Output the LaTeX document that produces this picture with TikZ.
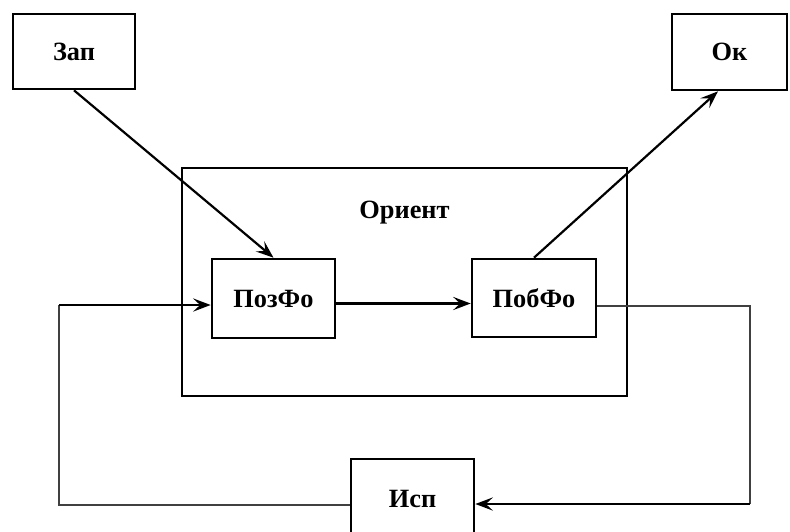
\documentclass[tikz,border=0pt]{standalone}
\usepackage{fontspec}
\setmainfont{Liberation Serif}
\usepackage{tikz}
\usetikzlibrary{arrows.meta, calc}

\tikzset{
	blok/.style={draw=black, line width=1.5pt, inner sep=0pt, minimum width=2.46cm, minimum height=1.56cm, font=\fontsize{15}{17}\selectfont\bfseries},
	strel/.style={line width=1.25pt, -{Stealth[length=10pt, width=7.5pt, inset=4pt]}},
	tonk/.style={line width=0.7pt, draw=black!75},
}

\begin{document}
\begin{tikzpicture}[x=0.02cm, y=-0.02cm]

	\useasboundingbox (0,0) rectangle (790,531);

	\node[blok, minimum width=2.44cm, minimum height=1.5cm] (zap) at (74,51.5) {Зап};
	\node[blok, minimum width=2.3cm, minimum height=1.52cm] (ok) at (729.5,52) {Ок};
	\node[blok, minimum width=8.9cm, minimum height=4.56cm] (orient) at (404.5,282) {};
	\node[font=\fontsize{15}{17}\selectfont\bfseries] (orientlbl) at (404.5,213) {Ориент};
	\node[blok, minimum height=1.58cm] (pozfo) at (273.5,298.5) {ПозФо};
	\node[blok, minimum width=2.48cm] (pobfo) at (534,298) {ПобФо};
	\node[blok, minimum height=1.6cm] (isp) at (412.5,499) {Исп};

	\coordinate (fbRt) at (750,306);
	\coordinate (fbRb) at (750,504);
	\coordinate (fbLb) at (59,505);
	\coordinate (fbLt) at (59,305);

	\draw[strel] (zap.south) -- (pozfo.north);
	\draw[strel] (pobfo.north) -- ($ (ok.south)+(-11.5,0) $);
	\draw[strel] ($ (pozfo.east)+(0,5) $) -- ($ (pobfo.west)+(0,5.5) $);

	\draw[tonk] (pobfo.east |- fbRt) -- (fbRt) -- (fbRb);
	\draw[strel] (fbRb) -- (fbRb -| isp.east);
	\draw[tonk] (isp.west |- fbLb) -- (fbLb) -- (fbLt);
	\draw[strel] (fbLt) -- (fbLt -| pozfo.west);

\end{tikzpicture}
\end{document}
